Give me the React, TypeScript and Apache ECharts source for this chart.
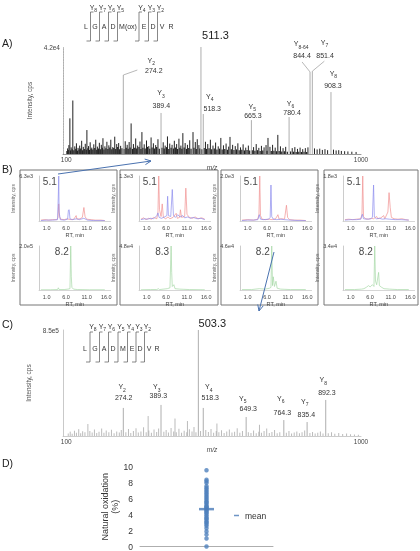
import React, { useEffect, useRef } from 'react';
import * as echarts from 'echarts';

const FONT = '"Liberation Sans", Arial, Helvetica, sans-serif';

// ---------------- Panel A: MS/MS of oxidized peptide ----------------
const A_MAX = 42000;
const A_TICKS = [100, 1000];
const A_PEAK_MZ = [274.2, 389.4, 511.3, 518.3, 665.3, 780.4, 844.4, 851.4, 908.3];
const A_PEAK_INT = [31000, 16100, 42000, 15700, 13300, 14500, 32200, 32500, 24300];
const A_PEAK_ION = ['2', '3', '', '4', '5', '6', '8-64', '7', '8'];
const A_NOISE: number[][] = [
  [104, 2200], [108, 3500], [111, 14000], [115, 2600], [120, 21000], [126, 3000], [131, 4200], [136, 2400],
  [141, 3300], [147, 5200], [152, 2800], [158, 4000], [163, 9400], [168, 3100], [173, 4600], [178, 2500],
  [184, 3800], [190, 5600], [195, 2900], [201, 4400], [207, 3600], [212, 6200], [218, 3000], [224, 4800],
  [230, 3400], [236, 5600], [242, 2700], [248, 6800], [254, 3900], [260, 4300], [266, 3200], [280, 5000],
  [286, 3600], [292, 4700], [298, 12000], [305, 3900], [312, 6100], [318, 3300], [325, 4900], [331, 8600],
  [338, 3800], [345, 5300], [352, 3100], [359, 6500], [366, 4200], [373, 3500], [380, 5800], [396, 4600],
  [402, 3300], [409, 6900], [416, 4100], [423, 3600], [430, 5200], [437, 3900], [444, 6000], [450, 3300],
  [456, 8200], [463, 4300], [470, 3600], [477, 5400], [487, 8600], [494, 4700], [500, 5800], [505, 3500],
  [525, 4800], [532, 3900], [540, 5600], [548, 3300], [556, 4500], [564, 3000], [572, 6300], [580, 3400],
  [588, 4100], [596, 2900], [600, 6700], [608, 3600], [616, 3100], [624, 4200], [632, 2600], [640, 3800],
  [648, 2500], [656, 3300], [672, 2700], [680, 3900], [688, 2400], [696, 3200], [704, 2600], [710, 3500],
  [716, 6300], [722, 2800], [730, 3600], [738, 2500], [746, 7500], [754, 3000], [762, 2300], [770, 2800],
  [790, 2300], [798, 2700], [806, 2000], [814, 2500], [822, 1900], [830, 2300], [838, 2600], [858, 2200],
  [866, 1800], [874, 2100], [882, 1600], [890, 1900], [898, 1500], [916, 1700], [924, 1400], [932, 1500],
  [940, 1200], [950, 1100], [960, 1000], [972, 900], [985, 800]
];
// low-level background ions of panel A
const A_BASE: number[][] = [
  [102, 1200], [106, 1600], [113, 1400], [118, 1900], [123, 1500], [129, 2100], [134, 1300], [139, 1800],
  [144, 2200], [150, 1500], [155, 2000], [161, 1700], [166, 2300], [171, 1600], [176, 2100], [181, 1800],
  [187, 2400], [193, 1700], [198, 2200], [204, 1900], [210, 2500], [215, 1800], [221, 2300], [227, 2000],
  [233, 2600], [239, 1900], [245, 2400], [251, 2000], [257, 2700], [263, 1900], [270, 2300], [276, 2000],
  [283, 2500], [289, 2100], [295, 2600], [302, 2000], [309, 2500], [315, 2200], [322, 2700], [328, 2000],
  [334, 2500], [341, 2200], [348, 2800], [355, 2100], [362, 2600], [369, 2200], [376, 2700], [384, 2100],
  [392, 2500], [399, 2200], [406, 2700], [413, 2000], [420, 2500], [427, 2200], [434, 2600], [440, 2000],
  [447, 2500], [453, 2100], [460, 2600], [467, 2000], [474, 2400], [481, 2100], [490, 2500], [497, 2000],
  [508, 2200], [514, 1900], [521, 2400], [528, 2000], [536, 2300], [544, 1900], [552, 2200], [560, 1800],
  [568, 2100], [576, 1800], [584, 2000], [592, 1700], [604, 1900], [612, 1600], [620, 1800], [628, 1500],
  [636, 1700], [644, 1400], [652, 1600], [660, 1400], [668, 1500], [676, 1300], [684, 1500], [692, 1200],
  [700, 1400], [713, 1300], [726, 1200], [734, 1300], [742, 1100], [750, 1200], [758, 1000], [766, 1100],
  [775, 900], [785, 1000], [794, 900], [802, 800], [810, 900], [818, 800], [826, 850], [834, 800]
];
const A_SEQ = ['L', 'G', 'A', 'D', 'M(ox)', 'E', 'D', 'V', 'R'];
const ION_LABELS = ['8', '7', '6', '5', '4', '3', '2'];

// ---------------- Panel B: XIC chromatograms ----------------
const B_TOP_MAX = [6300, 1300, 2000, 1800];
const B_BOTTOM_MAX = [200000, 48000, 46000, 34000];
const B_RT_TOP = [5.1, 5.1, 5.1, 5.1];
const B_RT_BOTTOM = [8.2, 8.3, 8.2, 8.2];
const B_RT_TICKS = [1, 6, 11, 16];
// traces in % of panel maximum: [RT, %]
const B_RED: number[][][] = [
  [[0.5, 2], [1.5, 3], [2.5, 2], [3.5, 3], [4.6, 3], [4.9, 8], [5.1, 38], [5.3, 10], [5.6, 4], [6.5, 3], [7.3, 5], [7.6, 4], [8.3, 3], [9.0, 4], [9.6, 12], [9.8, 4], [10.6, 5], [11.2, 8], [11.6, 30], [11.9, 10], [12.3, 4], [13.5, 3], [14.5, 2], [16, 2], [17, 1]],
  [[0.5, 4], [1.2, 7], [1.8, 3], [2.5, 6], [3.2, 4], [3.8, 8], [4.6, 5], [4.9, 20], [5.1, 100], [5.3, 25], [5.7, 10], [6.0, 38], [6.3, 8], [6.9, 5], [7.5, 9], [8.0, 5], [8.8, 8], [9.6, 17], [9.9, 6], [10.5, 8], [10.7, 25], [11.0, 8], [11.8, 10], [12.1, 73], [12.4, 15], [13.0, 8], [13.8, 6], [14.5, 9], [15.3, 5], [16.2, 7], [17, 4]],
  [[0.5, 2], [2, 3], [3.5, 2], [4.6, 4], [4.9, 15], [5.1, 100], [5.3, 12], [5.7, 4], [6.6, 3], [7.5, 4], [8.3, 3], [9.2, 5], [9.8, 14], [10.1, 4], [10.8, 5], [11.5, 4], [12.0, 35], [12.3, 8], [12.8, 3], [14, 2], [15.5, 2], [17, 1]],
  [[0.5, 3], [1.5, 4], [2.5, 3], [3.5, 4], [4.6, 5], [4.9, 15], [5.1, 100], [5.3, 10], [5.8, 5], [6.6, 4], [7.3, 6], [7.9, 5], [8.7, 10], [9.0, 5], [9.8, 7], [10.5, 12], [10.8, 5], [11.6, 20], [11.9, 63], [12.2, 30], [12.5, 8], [13.2, 5], [14.2, 4], [15.2, 5], [16.2, 3], [17, 2]]
];
const B_BLUE: number[][][] = [
  [[0.5, 1], [2, 2], [3.5, 2], [4.8, 3], [5.0, 60], [5.1, 100], [5.2, 20], [5.5, 3], [6.5, 2], [7.4, 4], [7.6, 24], [7.8, 25], [8.0, 5], [8.6, 3], [9.8, 5], [10.4, 3], [11.6, 6], [12.5, 2], [14, 1], [16, 1], [17, 1]],
  [[0.5, 3], [1.5, 5], [2.2, 4], [3.0, 6], [3.8, 5], [4.6, 12], [4.9, 18], [5.2, 8], [5.8, 6], [6.6, 9], [7.2, 12], [7.4, 55], [7.6, 12], [8.2, 10], [8.6, 70], [8.9, 12], [9.4, 8], [10.0, 14], [10.6, 9], [11.3, 12], [11.8, 7], [12.6, 9], [13.3, 6], [14.0, 8], [15.0, 5], [16, 6], [17, 3]],
  [[0.5, 1], [2, 2], [3.5, 2], [4.6, 3], [5.0, 14], [5.3, 4], [6, 3], [7.4, 4], [7.8, 8], [8.0, 80], [8.2, 10], [8.6, 4], [9.5, 3], [10.5, 4], [11.5, 3], [13, 2], [15, 1], [17, 1]],
  [[0.5, 2], [2, 3], [3.5, 3], [4.6, 4], [5.0, 15], [5.3, 5], [6.2, 4], [7.2, 5], [7.6, 8], [7.9, 80], [8.1, 9], [8.6, 5], [9.4, 6], [10.2, 4], [11.0, 5], [12.0, 4], [13.5, 3], [15, 3], [17, 2]]
];
const B_GREEN: number[][][] = [
  [[0.5, 0.5], [3, 0.5], [4.8, 1], [5.0, 5], [5.2, 1], [6.5, 1], [7.5, 2], [8.0, 3], [8.2, 100], [8.35, 30], [8.5, 6], [8.9, 2], [10, 1], [13, 0.5], [17, 0.5]],
  [[0.5, 0.5], [3, 1], [4.6, 1], [5.0, 3], [5.3, 1], [7.3, 3], [8.0, 5], [8.3, 100], [8.45, 40], [8.6, 8], [9.0, 12], [9.3, 3], [10.5, 2], [13, 1], [17, 0.5]],
  [[0.5, 1], [3, 1], [5.0, 3], [6.5, 2], [7.6, 4], [8.0, 6], [8.2, 100], [8.4, 10], [8.6, 30], [8.9, 8], [9.3, 20], [9.6, 4], [10.5, 2], [13, 1], [17, 1]],
  [[0.5, 1], [3, 1], [4.8, 2], [5.4, 3], [6.0, 6], [6.6, 10], [7.0, 7], [7.6, 12], [8.0, 8], [8.2, 100], [8.4, 20], [8.7, 12], [9.2, 40], [9.4, 10], [10, 6], [10.6, 3], [12, 2], [14, 1], [17, 1]]
];

// ---------------- Panel C: MS/MS of native peptide ----------------
const C_MAX = 850000;
const C_PEAK_MZ = [274.2, 389.3, 503.3, 518.3, 649.3, 764.3, 835.4, 892.3];
const C_PEAK_INT = [225000, 249000, 850000, 225000, 152000, 128000, 112000, 289000];
const C_PEAK_ION = ['2', '3', '', '4', '5', '6', '7', '8'];
const C_NOISE: number[][] = [
  [106, 20000], [112, 35000], [118, 18000], [125, 42000], [131, 26000], [138, 55000], [144, 22000], [150, 38000],
  [157, 30000], [166, 96000], [172, 40000], [179, 28000], [186, 52000], [193, 24000], [200, 34000], [208, 60000],
  [215, 26000], [222, 44000], [230, 30000], [238, 50000], [246, 22000], [254, 36000], [262, 28000], [268, 48000],
  [282, 30000], [290, 56000], [297, 24000], [305, 40000], [313, 62000], [320, 28000], [328, 36000], [336, 70000],
  [344, 30000], [350, 160000], [352, 44000], [360, 26000], [368, 52000], [376, 32000], [382, 60000], [398, 34000],
  [405, 48000], [412, 28000], [420, 64000], [428, 36000], [432, 140000], [436, 30000], [444, 58000], [452, 26000],
  [460, 42000], [468, 30000], [470, 120000], [476, 54000], [484, 36000], [490, 72000], [496, 30000], [510, 40000],
  [526, 48000], [534, 32000], [542, 56000], [550, 26000], [558, 40000], [560, 100000], [566, 30000], [574, 46000],
  [582, 24000], [590, 36000], [598, 52000], [606, 28000], [614, 34000], [622, 62000], [630, 26000], [638, 40000],
  [656, 30000], [664, 24000], [672, 44000], [680, 22000], [688, 34000], [690, 90000], [696, 26000], [704, 40000],
  [712, 60000], [720, 24000], [728, 32000], [736, 48000], [744, 22000], [752, 30000], [772, 26000], [780, 40000],
  [788, 20000], [796, 28000], [804, 36000], [812, 22000], [820, 30000], [828, 44000], [844, 24000], [852, 32000],
  [860, 20000], [868, 26000], [876, 36000], [884, 20000], [900, 22000], [910, 30000], [920, 18000], [932, 24000],
  [944, 16000], [956, 20000], [968, 14000], [980, 12000], [992, 10000]
];
const C_SEQ = ['L', 'G', 'A', 'D', 'M', 'E', 'D', 'V', 'R'];

// ---------------- Panel D: natural oxidation ----------------
const D_VALUES = [9.6, 8.4, 8.2, 8.0, 7.6, 7.4, 7.2, 7.0, 6.8, 6.6, 6.4, 6.2, 6.0, 5.8, 5.6, 5.5, 5.3, 5.1, 5.0, 4.9,
  4.8, 4.6, 4.5, 4.3, 4.2, 4.0, 3.8, 3.6, 3.5, 3.3, 3.1, 3.0, 2.8, 2.6, 2.3, 1.9, 1.5, 1.0, 0.0];
const D_MEAN = 4.7;
const D_MIN = 0, D_MAX = 10, D_STEP = 2;

// ---------------- layout (positions only) ----------------
// label offsets relative to the peak top: y = "Y" glyph centre, n = number centre, l = leader end
const A_LABEL_POS = [
  { y: [26.5, -15], n: [30.5, -5], l: [14, -5] },
  { y: [-1.5, -20], n: [0.3, -7] },
  { n: [14.5, -12] },
  { y: [5, -18], n: [9, -6] },
  { y: [-0.5, -14], n: [1.5, -4.5] },
  { y: [0, -14], n: [3, -4.5] },
  { y: [-14, -28], n: [-8, -16], l: [-8, -10] },
  { y: [10.7, -29], n: [12.7, -16], l: [12, -10] },
  { y: [1, -19], n: [2, -7] }
];
const C_LABEL_POS = [
  { y: [-2.6, -21], n: [0.4, -10] },
  { y: [-5.7, -18], n: [-2.7, -9] },
  { n: [14, -7] },
  { y: [4, -21], n: [7, -10] },
  { y: [-4.9, -19], n: [2.1, -9] },
  { y: [-4.5, -22], n: [-1.5, -8] },
  { y: [-3.8, -21], n: [-0.8, -8] },
  { y: [-3.8, -20], n: [1.2, -7] }
];
const BOX_LEFT = [20, 120, 221, 324];
const BOX_WIDTH = [97, 98, 97, 94];

const fmtE = (v: number) => v.toExponential(1).replace('+', '');

function stickSeries(data: number[][], idx: number, color: string, width: number) {
  return {
    type: 'custom', xAxisIndex: idx, yAxisIndex: idx, silent: true, data,
    encode: { x: 0, y: 1 },
    renderItem: (_p: any, api: any) => {
      const b = api.coord([api.value(0), 0]);
      const t = api.coord([api.value(0), api.value(1)]);
      return { type: 'line', shape: { x1: b[0], y1: b[1], x2: t[0], y2: t[1] }, style: { stroke: color, lineWidth: width } };
    }
  };
}

function labeledSeries(mz: number[], ints: number[], ions: string[], pos: any[], idx: number, color: string) {
  return {
    type: 'custom', xAxisIndex: idx, yAxisIndex: idx, silent: true, z: 3,
    data: mz.map((m, i) => [m, ints[i], i]),
    encode: { x: 0, y: 1 },
    renderItem: (_p: any, api: any) => {
      const i = api.value(2);
      const b = api.coord([api.value(0), 0]);
      const t = api.coord([api.value(0), api.value(1)]);
      const o = pos[i];
      const txt = (api.value(0) as number).toFixed(1);
      const kids: any[] = [
        { type: 'line', shape: { x1: b[0], y1: b[1], x2: t[0], y2: t[1] }, style: { stroke: color, lineWidth: 0.8 } }
      ];
      if (!ions[i]) {
        kids.push({ type: 'text', x: t[0] + o.n[0], y: t[1] + o.n[1], style: { text: txt, fontSize: 11, fill: '#222', align: 'center', verticalAlign: 'middle', fontFamily: FONT } });
      } else {
        kids.push({ type: 'text', x: t[0] + o.y[0], y: t[1] + o.y[1], style: { text: 'Y', fontSize: 7, fill: '#333', align: 'center', verticalAlign: 'middle', fontFamily: FONT } });
        kids.push({ type: 'text', x: t[0] + o.y[0] + 2.4, y: t[1] + o.y[1] + 3, style: { text: ions[i], fontSize: 5, fill: '#333', align: 'left', verticalAlign: 'middle', fontFamily: FONT } });
        kids.push({ type: 'text', x: t[0] + o.n[0], y: t[1] + o.n[1], style: { text: txt, fontSize: 7, fill: '#333', align: 'center', verticalAlign: 'middle', fontFamily: FONT } });
        if (o.l) {
          kids.push({ type: 'line', shape: { x1: t[0], y1: t[1], x2: t[0] + o.l[0], y2: t[1] + o.l[1] }, style: { stroke: color, lineWidth: 0.7 } });
        }
      }
      return { type: 'group', children: kids };
    }
  };
}

function sequenceGraphic(res: string[], resX: number[], sepX: number[], yLetters: number, yTop: number, yBottom: number, yLabel: number) {
  const els: any[] = [];
  res.forEach((r, i) => els.push({ type: 'text', x: resX[i], y: yLetters, style: { text: r, fontSize: 7, fill: '#333', align: 'center', verticalAlign: 'middle', fontFamily: FONT } }));
  sepX.forEach((sx, i) => {
    els.push({ type: 'polyline', shape: { points: [[sx + 3, yTop], [sx, yTop], [sx, yBottom], [sx - 4, yBottom]] }, style: { stroke: '#555', lineWidth: 0.7, fill: 'none' } });
    els.push({ type: 'text', x: sx + 1.5, y: yLabel, style: { text: 'Y', fontSize: 7, fill: '#333', align: 'center', verticalAlign: 'middle', fontFamily: FONT } });
    els.push({ type: 'text', x: sx + 3.8, y: yLabel + 3, style: { text: ION_LABELS[i], fontSize: 5, fill: '#333', align: 'left', verticalAlign: 'middle', fontFamily: FONT } });
  });
  return els;
}

function arrow(x1: number, y1: number, x2: number, y2: number) {
  const dx = x2 - x1, dy = y2 - y1, len = Math.hypot(dx, dy), ux = dx / len, uy = dy / len;
  const bx = x2 - ux * 6, by = y2 - uy * 6, px = -uy * 2.8, py = ux * 2.8;
  const st = { stroke: '#4a72b0', lineWidth: 1, fill: 'none' };
  return [
    { type: 'line', z: 100, shape: { x1, y1, x2, y2 }, style: st },
    { type: 'polyline', z: 100, shape: { points: [[bx + px, by + py], [x2, y2], [bx - px, by - py]] }, style: st }
  ];
}

function buildOption() {
  const grid: any[] = [], xAxis: any[] = [], yAxis: any[] = [], series: any[] = [];
  const lbl = { fontFamily: FONT, color: '#444' };

  // ---- A (index 0)
  grid.push({ left: 63, top: 47, width: 298, height: 107 });
  xAxis.push({
    gridIndex: 0, type: 'value', min: 90, max: 1000,
    axisLine: { show: true, lineStyle: { color: '#555', width: 0.6 } }, axisTick: { show: false }, splitLine: { show: false },
    axisLabel: { ...lbl, customValues: A_TICKS, fontSize: 6.5, margin: 2, formatter: (v: number) => String(v) },
    name: 'm/z', nameLocation: 'middle', nameGap: 3, nameTextStyle: { ...lbl, fontStyle: 'italic', fontSize: 6.5, verticalAlign: 'top' }
  });
  yAxis.push({
    gridIndex: 0, type: 'value', min: 0, max: A_MAX, interval: A_MAX,
    axisLine: { show: true, lineStyle: { color: '#999', type: 'dotted', width: 0.8 } }, axisTick: { show: false }, splitLine: { show: false },
    axisLabel: { ...lbl, fontSize: 6.5, margin: 3, showMinLabel: false, formatter: (v: number) => (v === A_MAX ? fmtE(v) : '') },
    name: 'Intensity, cps', nameLocation: 'middle', nameGap: 10, nameRotate: 90, nameTextStyle: { ...lbl, fontSize: 6.5, color: '#555' }
  });
  series.push(stickSeries(A_BASE, 0, '#222', 1.2));
  series.push(stickSeries(A_NOISE, 0, '#222', 1));
  series.push(labeledSeries(A_PEAK_MZ, A_PEAK_INT, A_PEAK_ION, A_LABEL_POS, 0, '#999'));

  // ---- B (indices 1..8)
  for (let r = 0; r < 2; r++) {
    for (let i = 0; i < 4; i++) {
      const idx = 1 + r * 4 + i;
      const L = BOX_LEFT[i];
      const top = r === 0 ? 176 : 246;
      const h = r === 0 ? 45 : 44;
      const mx = r === 0 ? B_TOP_MAX[i] : B_BOTTOM_MAX[i];
      grid.push({ left: L + 19, top, width: 18.5 * 3.87, height: h });
      xAxis.push({
        gridIndex: idx, type: 'value', min: 0, max: 18.5,
        axisLine: { show: true, lineStyle: { color: '#bbb', width: 0.6 } }, axisTick: { show: false }, splitLine: { show: false },
        axisLabel: { ...lbl, customValues: B_RT_TICKS, fontSize: 5.5, margin: 4, align: 'left', formatter: (v: number) => v.toFixed(1) },
        name: 'RT, min', nameLocation: 'middle', nameGap: 11, nameTextStyle: { ...lbl, fontSize: 5.5 }
      });
      yAxis.push({
        gridIndex: idx, type: 'value', min: 0, max: mx, interval: mx,
        axisLine: { show: true, lineStyle: { color: '#aaa', width: 0.6 } }, axisTick: { show: false }, splitLine: { show: false },
        axisLabel: { ...lbl, fontSize: 5.5, margin: 6, showMinLabel: false, formatter: (v: number) => (v === mx ? fmtE(v) : '') },
        name: 'Intensity, cps', nameLocation: 'middle', nameGap: 5, nameRotate: 90, nameTextStyle: { ...lbl, fontSize: 5, color: '#666' }
      });
      const mk = (tr: number[][], color: string) => ({
        type: 'line', xAxisIndex: idx, yAxisIndex: idx, showSymbol: false, silent: true,
        data: tr.map(p => [p[0], (p[1] * mx) / 100]),
        lineStyle: { color, width: 0.7 }, itemStyle: { color }
      });
      if (r === 0) {
        series.push(mk(B_RED[i], '#f09090'));
        series.push(mk(B_BLUE[i], '#8c8cee'));
      } else {
        series.push(mk(B_GREEN[i], '#a6d8a6'));
      }
      const rt = r === 0 ? B_RT_TOP[i] : B_RT_BOTTOM[i];
      series.push({
        type: 'scatter', xAxisIndex: idx, yAxisIndex: idx, silent: true, symbolSize: 0,
        data: [[rt, mx]],
        label: { show: true, position: 'left', distance: 2, offset: [0, 5], formatter: () => rt.toFixed(1), fontSize: 10, color: '#111', fontFamily: FONT }
      });
    }
  }

  // ---- C (index 9)
  grid.push({ left: 63, top: 330, width: 298, height: 106 });
  xAxis.push({
    gridIndex: 9, type: 'value', min: 90, max: 1000,
    axisLine: { show: true, lineStyle: { color: '#aaa', width: 0.6 } }, axisTick: { show: false }, splitLine: { show: false },
    axisLabel: { ...lbl, customValues: A_TICKS, fontSize: 6.5, margin: 2, formatter: (v: number) => String(v) },
    name: 'm/z', nameLocation: 'middle', nameGap: 3, nameTextStyle: { ...lbl, fontStyle: 'italic', fontSize: 6.5, verticalAlign: 'top' }
  });
  yAxis.push({
    gridIndex: 9, type: 'value', min: 0, max: C_MAX, interval: C_MAX,
    axisLine: { show: true, lineStyle: { color: '#bbb', width: 0.8 } }, axisTick: { show: false }, splitLine: { show: false },
    axisLabel: { ...lbl, fontSize: 6.5, margin: 4, showMinLabel: false, formatter: (v: number) => (v === C_MAX ? fmtE(v) : '') },
    name: 'Intensity, cps', nameLocation: 'middle', nameGap: 10, nameRotate: 90, nameTextStyle: { ...lbl, fontSize: 6.5, color: '#555' }
  });
  series.push(stickSeries(C_NOISE, 9, '#aaa', 0.8));
  series.push(labeledSeries(C_PEAK_MZ, C_PEAK_INT, C_PEAK_ION, C_LABEL_POS, 9, '#999'));

  // ---- D (index 10)
  grid.push({ left: 140, top: 467, width: 133, height: 81 });
  xAxis.push({
    gridIndex: 10, type: 'category', data: ['samples'],
    axisLine: { show: true, lineStyle: { color: '#999', width: 0.8 } }, axisTick: { show: false }, axisLabel: { show: false }
  });
  yAxis.push({
    gridIndex: 10, type: 'value', min: D_MIN, max: D_MAX, interval: D_STEP,
    axisLine: { show: false }, axisTick: { show: false }, splitLine: { show: false },
    axisLabel: { ...lbl, color: '#333', fontSize: 8.5, margin: 7 },
    name: 'Natural oxidation\n(%)', nameLocation: 'middle', nameGap: 17, nameRotate: 90,
    nameTextStyle: { ...lbl, color: '#333', fontSize: 9, lineHeight: 10 }
  });
  series.push({
    type: 'scatter', name: 'samples', xAxisIndex: 10, yAxisIndex: 10, symbolSize: 4.5,
    itemStyle: { color: '#4f81bd' }, data: D_VALUES.map(v => [0, v])
  });
  series.push({
    type: 'scatter', name: 'mean', xAxisIndex: 10, yAxisIndex: 10, symbol: 'rect', symbolSize: [15, 2.5],
    itemStyle: { color: '#4a7ab8' }, data: [[0, D_MEAN]], z: 5
  });

  // ---- graphic annotations
  const g: any[] = [];
  const panel = (t: string, y: number) => ({ type: 'text', x: 2, y, style: { text: t, fontSize: 10.5, fill: '#222', verticalAlign: 'middle', fontFamily: FONT } });
  g.push(panel('A)', 43), panel('B)', 169), panel('C)', 324), panel('D)', 463));
  BOX_LEFT.forEach((L, i) => g.push({ type: 'rect', shape: { x: L, y: 170, width: BOX_WIDTH[i], height: 135 }, style: { stroke: '#777', lineWidth: 1, fill: 'none' } }));
  g.push(...sequenceGraphic(A_SEQ, [86, 95, 104, 113, 128, 144, 153, 162, 171], [90.5, 99.5, 108.5, 117.5, 139, 148.5, 157.5], 26, 12, 41, 7));
  g.push(...sequenceGraphic(C_SEQ, [85, 95, 104, 113, 123, 132, 140, 149, 157], [90, 99.5, 108.5, 118, 127.5, 136, 144.5], 348, 332, 362, 326));
  g.push(...arrow(58, 174, 151, 161));
  g.push(...arrow(274, 252, 259, 311));

  return {
    animation: false,
    backgroundColor: '#fff',
    textStyle: { fontFamily: FONT },
    grid, xAxis, yAxis, series,
    legend: {
      data: [{ name: 'mean', icon: 'rect' }], left: 229, top: 506, itemWidth: 5, itemHeight: 1.5, itemGap: 2,
      selectedMode: false, textStyle: { fontSize: 8.5, color: '#333', fontFamily: FONT, padding: [0, 0, 0, 1] }
    },
    graphic: g
  };
}

export default function App() {
  const ref = useRef<HTMLDivElement>(null);
  useEffect(() => {
    if (!ref.current) return;
    const chart = echarts.init(ref.current, undefined, { renderer: 'svg' });
    chart.setOption(buildOption() as any);
    return () => chart.dispose();
  }, []);
  return (
    <div
      ref={ref}
      style={{ position: 'fixed', left: 0, top: 0, width: 420, height: 551, background: '#fff', filter: 'contrast(1.001)' }}
    />
  );
}
